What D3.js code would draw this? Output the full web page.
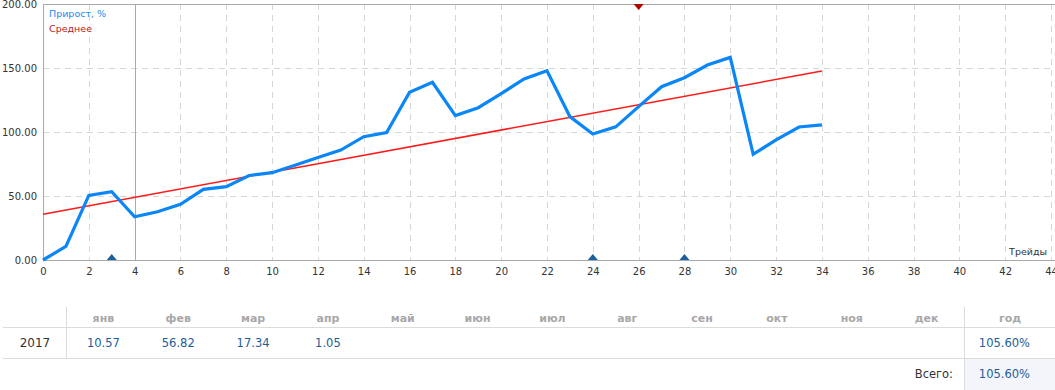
<!DOCTYPE html>
<html>
<head>
<meta charset="utf-8">
<script src="https://cdn.jsdelivr.net/npm/d3@7"></script>
<style>
  body { margin: 0; background: #fff; }
  svg { display: block; font-family: "DejaVu Sans", Tahoma, sans-serif; }
</style>
</head>
<body>
<div id="chart"></div>
<script>
// chart data
var growth = [0, 10.6, 50.5, 53.4, 33.8, 37.7, 43.5, 55.2, 57.3, 66, 68.2, 74, 80, 85.9,
  96.3, 99.5, 131, 138.8, 112.8, 119, 130, 141.4, 147.9, 112, 98.4, 104, 119.8,
  135.4, 142.4, 152.3, 158.3, 82.6, 93.8, 103.9, 105.6];
var avgEnds = [[0, 35.8], [34, 147.6]];
var buyMarks = [3, 24, 28];
var sellMarks = [26];
var markerLine = 4;
var xTicks = d3.range(0, 46, 2);
var yTicks = [0, 50, 100, 150, 200];

// table data
var months = ["янв", "фев", "мар", "апр", "май", "июн", "июл", "авг", "сен", "окт", "ноя", "дек"];
var monthValues = ["10.57", "56.82", "17.34", "1.05", "", "", "", "", "", "", "", ""];
var yearLabel = "2017";
var yearTotal = "105.60%";
var grandTotal = "105.60%";

var width = 1055, height = 390;
var plot = { left: 43, right: 1051, top: 4, bottom: 260 };

var svg = d3.select("#chart").append("svg")
  .attr("width", width)
  .attr("height", height);

var x = d3.scaleLinear().domain([0, 44]).range([plot.left, plot.right]);
var y = d3.scaleLinear().domain([0, 200]).range([plot.bottom, plot.top]);

// grid
svg.append("g").selectAll("line")
  .data(xTicks.filter(function (d) { return d !== 0 && d !== markerLine; }))
  .enter().append("line")
  .attr("x1", function (d) { return Math.round(x(d)) + 0.5; })
  .attr("x2", function (d) { return Math.round(x(d)) + 0.5; })
  .attr("y1", plot.top).attr("y2", plot.bottom)
  .attr("stroke", "#d6d6d6")
  .attr("stroke-dasharray", "6,5");

svg.append("g").selectAll("line")
  .data(yTicks.filter(function (d) { return d > 0 && d < 200; }))
  .enter().append("line")
  .attr("x1", plot.left).attr("x2", width)
  .attr("y1", function (d) { return Math.round(y(d)) + 0.5; })
  .attr("y2", function (d) { return Math.round(y(d)) + 0.5; })
  .attr("stroke", "#d6d6d6")
  .attr("stroke-dasharray", "6,5");

// frame lines
svg.append("line")
  .attr("x1", plot.left).attr("x2", width)
  .attr("y1", plot.top + 0.5).attr("y2", plot.top + 0.5)
  .attr("stroke", "#aaa");
svg.append("line")
  .attr("x1", Math.round(x(markerLine)) + 0.5).attr("x2", Math.round(x(markerLine)) + 0.5)
  .attr("y1", plot.top).attr("y2", plot.bottom)
  .attr("stroke", "#aaa");

// axes
var xAxis = svg.append("g")
  .attr("transform", "translate(0," + plot.bottom + ")")
  .call(d3.axisBottom(x).tickValues(xTicks).tickSize(0).tickPadding(8).tickFormat(d3.format("d")));
var yAxis = svg.append("g")
  .attr("transform", "translate(" + plot.left + ",0)")
  .call(d3.axisLeft(y).tickValues(yTicks).tickSize(0).tickPadding(6).tickFormat(d3.format(".2f")));
[xAxis, yAxis].forEach(function (a) {
  a.select(".domain").attr("stroke", "#aaa");
  a.selectAll("text").attr("fill", "#333").style("font-size", "10px")
    .style("font-family", "\"DejaVu Sans\", Tahoma, sans-serif");
});
xAxis.select(".domain").attr("d", "M" + plot.left + ",0.5H" + width);

// average line
svg.append("line")
  .attr("x1", x(avgEnds[0][0])).attr("y1", y(avgEnds[0][1]))
  .attr("x2", x(avgEnds[1][0])).attr("y2", y(avgEnds[1][1]))
  .attr("stroke", "#ff1a1a")
  .attr("stroke-width", 1.5);

// growth line
var line = d3.line()
  .x(function (d, i) { return x(i); })
  .y(function (d) { return y(d); });
svg.append("path")
  .datum(growth)
  .attr("d", line)
  .attr("fill", "none")
  .attr("stroke", "#0a86f7")
  .attr("stroke-width", 3.2)
  .attr("stroke-linejoin", "miter");

// trade markers
svg.append("g").selectAll("path")
  .data(buyMarks)
  .enter().append("path")
  .attr("d", function (d) {
    var cx = x(d), b = plot.bottom;
    return "M" + (cx - 5) + "," + b + "L" + cx + "," + (b - 6) + "L" + (cx + 5) + "," + b + "Z";
  })
  .attr("fill", "#1b5f9c");
svg.append("g").selectAll("path")
  .data(sellMarks)
  .enter().append("path")
  .attr("d", function (d) {
    var cx = x(d), t = plot.top;
    return "M" + (cx - 5) + "," + t + "L" + cx + "," + (t + 6) + "L" + (cx + 5) + "," + t + "Z";
  })
  .attr("fill", "#b00000");

// legend
svg.append("text").attr("x", 49).attr("y", 17)
  .style("font-size", "9.5px").attr("fill", "#1e88f0").text("Прирост, %");
svg.append("text").attr("x", 49).attr("y", 32)
  .style("font-size", "9.5px").attr("fill", "#c0181c").text("Среднее");
svg.append("text").attr("x", 1047).attr("y", 255)
  .attr("text-anchor", "end")
  .style("font-size", "9.5px").attr("fill", "#333").text("Трейды");

// table
var col = d3.scaleBand().domain(months).range([66, 964]);
var rowLines = [327, 358];
var t = svg.append("g");

t.append("rect").attr("x", 964).attr("y", 358).attr("width", width - 964).attr("height", height - 358)
  .attr("fill", "#f3f5fb");

t.selectAll(".hline").data(rowLines).enter().append("line")
  .attr("x1", 3).attr("x2", width)
  .attr("y1", function (d) { return d + 0.5; }).attr("y2", function (d) { return d + 0.5; })
  .attr("stroke", "#dcdcdc");
t.append("line").attr("x1", 66.5).attr("x2", 66.5).attr("y1", 307).attr("y2", 358)
  .attr("stroke", "#dcdcdc");
t.append("line").attr("x1", 964.5).attr("x2", 964.5).attr("y1", 307).attr("y2", height)
  .attr("stroke", "#dcdcdc");

t.selectAll(".mh").data(months).enter().append("text")
  .attr("x", function (d) { return col(d) + col.bandwidth() / 2; })
  .attr("y", 322).attr("text-anchor", "middle")
  .style("font-size", "11px").style("font-weight", "bold").attr("fill", "#a8a8a8")
  .text(function (d) { return d; });
t.append("text").attr("x", 1010).attr("y", 322).attr("text-anchor", "middle")
  .style("font-size", "11px").style("font-weight", "bold").attr("fill", "#a8a8a8").text("год");

t.selectAll(".mv").data(monthValues).enter().append("text")
  .attr("x", function (d, i) { return col(months[i]) + col.bandwidth() / 2; })
  .attr("y", 347).attr("text-anchor", "middle")
  .style("font-size", "11.5px").attr("fill", "#1d5d99")
  .text(function (d) { return d; });
t.append("text").attr("x", 35).attr("y", 347).attr("text-anchor", "middle")
  .style("font-size", "12px").attr("fill", "#333").text(yearLabel);
t.append("text").attr("x", 1030).attr("y", 347).attr("text-anchor", "end")
  .style("font-size", "11.5px").attr("fill", "#1d5d99").text(yearTotal);

t.append("text").attr("x", 953).attr("y", 378).attr("text-anchor", "end")
  .style("font-size", "11.5px").attr("fill", "#333").text("Всего:");
t.append("text").attr("x", 1030).attr("y", 378).attr("text-anchor", "end")
  .style("font-size", "11.5px").attr("fill", "#1d5d99").text(grandTotal);
</script>
</body>
</html>
